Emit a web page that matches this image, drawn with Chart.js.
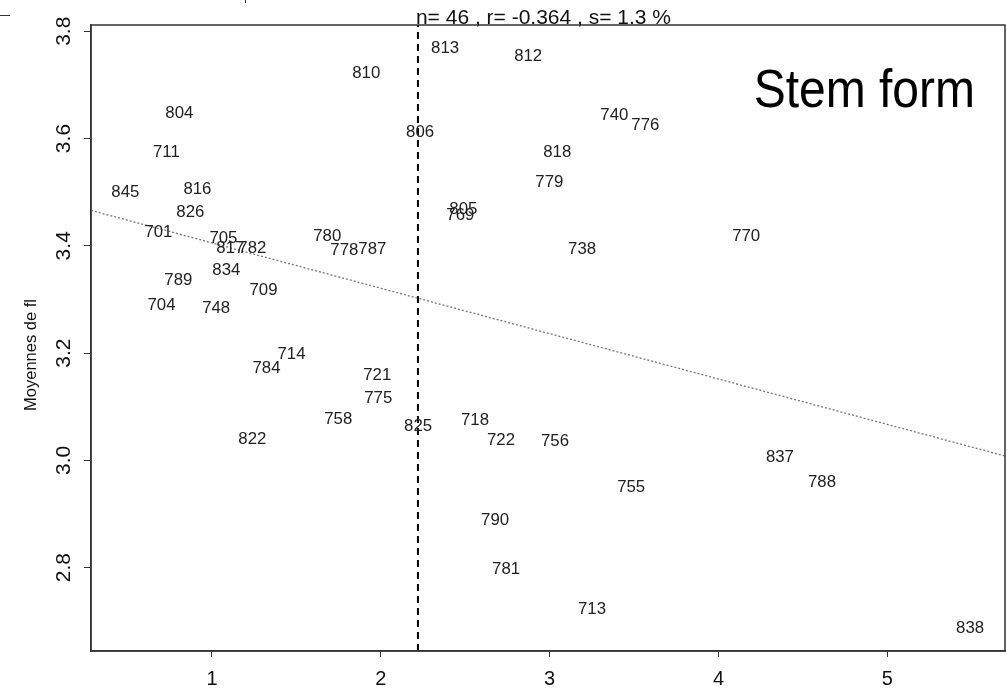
<!DOCTYPE html>
<html>
<head>
<meta charset="utf-8">
<script src="https://cdn.jsdelivr.net/npm/chart.js@4.4.1/dist/chart.umd.min.js"></script>
<style>
html,body{margin:0;padding:0;background:#fff;}
#wrap{width:1007px;height:688px;}
</style>
</head>
<body>
<div id="wrap"><canvas id="mycanvas" width="1007" height="688"></canvas></div>
<script>
// tree ids, x and mean fl
var ids = ['813','812','810','804','806','740','776','711','818','779','845','816','826','805','769','701','705','817','782','780','778','787','738','770','834','789','709','704','748','714','784','721','775','758','825','718','822','722','756','837','788','755','790','781','713','838'];
var xs = [2.381,2.873,1.914,0.807,2.233,3.383,3.567,0.730,3.045,2.998,0.487,0.914,0.872,2.489,2.471,0.683,1.068,1.109,1.239,1.683,1.784,1.950,3.192,4.164,1.085,0.801,1.305,0.701,1.025,1.471,1.323,1.979,1.985,1.748,2.221,2.558,1.239,2.712,3.032,4.364,4.613,3.483,2.677,2.742,3.251,5.490];
var ys = [3.768,3.753,3.722,3.647,3.612,3.643,3.625,3.574,3.574,3.519,3.500,3.506,3.463,3.468,3.457,3.425,3.414,3.396,3.396,3.418,3.392,3.394,3.394,3.418,3.355,3.336,3.317,3.289,3.284,3.198,3.172,3.159,3.116,3.077,3.064,3.075,3.040,3.038,3.036,3.006,2.959,2.950,2.889,2.797,2.723,2.687];

var xTicks = [1,2,3,4,5];
var yTicks = [2.8,3.0,3.2,3.4,3.6,3.8];
var xRange = [0.2836,5.697];
var yRange = [2.6444,3.8117];

// regression line and cut line
var fitX = [0.2836,5.697];
var fitY = [3.466,3.008];
var cutX = [2.22,2.22];
var cutY = [2.6444,3.8117];

var statText = 'n= 46 , r= -0.364 , s= 1.3 %';
var panelText = 'Stem form';
var yTitle = 'Moyennes de fl';

var pts = [];
for (var i in ids) {
	pts.push({x:xs[i], y:ys[i]});
}

var extras = {
	id:'extras',
	afterDatasetsDraw:function(chart){
		var ctx = chart.ctx;
		var a = chart.chartArea;
		var meta = chart.getDatasetMeta(0);
		ctx.save();
		// point labels
		ctx.font = '15px "Liberation Sans", Arial, sans-serif';
		ctx.fillStyle = '#222';
		ctx.textAlign = 'center';
		ctx.textBaseline = 'middle';
		meta.data.forEach(function(p, i){
			ctx.save();
			ctx.translate(p.x, p.y + 0.5);
			ctx.scale(1.12, 1.05);
			ctx.fillText(ids[i], 0, 0);
			ctx.restore();
		});
		// frame
		ctx.strokeStyle = '#333';
		ctx.lineWidth = 1.5;
		ctx.strokeRect(a.left, a.top, a.right - a.left, a.bottom - a.top);
		// stats line above the plot
		var sx = chart.scales.x.getPixelForValue(cutX[0]);
		ctx.font = '21px "Liberation Sans", Arial, sans-serif';
		ctx.fillStyle = '#111';
		ctx.textAlign = 'left';
		ctx.textBaseline = 'alphabetic';
		ctx.fillText(statText, sx - 2, a.top - 1);
		// panel name
		ctx.save();
		ctx.font = '48px "Liberation Sans", Arial, sans-serif';
		ctx.textAlign = 'right';
		ctx.translate(a.right - 30, a.top + 82);
		ctx.scale(1, 1.12);
		ctx.fillStyle = '#000';
		ctx.fillText(panelText, 0, 0);
		ctx.restore();
		// y axis title
		ctx.save();
		ctx.font = '16.5px "Liberation Sans", Arial, sans-serif';
		ctx.fillStyle = '#111';
		ctx.textAlign = 'center';
		ctx.textBaseline = 'middle';
		ctx.translate(31, (a.top + a.bottom) / 2 + 17);
		ctx.rotate(-Math.PI / 2);
		ctx.fillText(yTitle, 0, 0);
		ctx.restore();
		// bits of the neighbouring panel
		ctx.strokeStyle = '#333';
		ctx.lineWidth = 1;
		ctx.beginPath();
		ctx.moveTo(0, 15.5); ctx.lineTo(10, 15.5);
		ctx.moveTo(245.5, 0); ctx.lineTo(245.5, 3);
		ctx.stroke();
		ctx.restore();
	}
};

var ctx = document.getElementById('mycanvas');
var chart = new Chart(ctx, {
	type:'scatter',
	data:{
		datasets:[
			{
				label:'trees',
				data:pts,
				pointRadius:0,
				pointHoverRadius:0,
				showLine:false
			},
			{
				label:'fit',
				type:'line',
				data:[{x:fitX[0], y:fitY[0]}, {x:fitX[1], y:fitY[1]}],
				borderColor:'#777',
				borderWidth:1.3,
				borderDash:[2,2],
				pointRadius:0,
				fill:false
			},
			{
				label:'cut',
				type:'line',
				data:[{x:cutX[0], y:cutY[0]}, {x:cutX[1], y:cutY[1]}],
				borderColor:'#000',
				borderWidth:2,
				borderDash:[7,5],
				pointRadius:0,
				fill:false
			}
		]
	},
	options:{
		responsive:false,
		animation:false,
		devicePixelRatio:1,
		layout:{padding:{top:25, right:2, left:0, bottom:0}},
		plugins:{legend:{display:false}, tooltip:{enabled:false}},
		scales:{
			x:{
				type:'linear',
				min:xRange[0],
				max:xRange[1],
				afterBuildTicks:function(s){ s.ticks = xTicks.map(function(v){ return {value:v}; }); },
				afterFit:function(s){ s.height = 37; },
				grid:{drawOnChartArea:false, tickLength:6, color:'#333', lineWidth:1},
				border:{color:'#333', width:1.5},
				ticks:{font:{family:'Liberation Sans', size:20}, color:'#111', padding:10, maxRotation:0, autoSkip:false}
			},
			y:{
				type:'linear',
				min:yRange[0],
				max:yRange[1],
				afterBuildTicks:function(s){ s.ticks = yTicks.map(function(v){ return {value:v}; }); },
				afterFit:function(s){ s.width = 91; },
				grid:{drawOnChartArea:false, tickLength:7, color:'#333', lineWidth:1},
				border:{color:'#333', width:1.5},
				ticks:{
					font:{family:'Liberation Sans', size:21}, color:'#111',
					minRotation:90, maxRotation:90, crossAlign:'center', padding:5, autoSkip:false,
					callback:function(v){ return v.toFixed(1); }
				}
			}
		}
	},
	plugins:[extras]
});
</script>
</body>
</html>
